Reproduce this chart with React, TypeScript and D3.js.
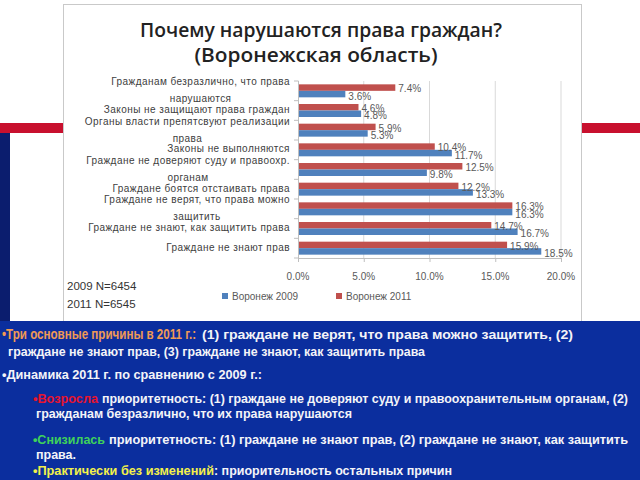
import React, { useEffect, useRef } from 'react';
import * as d3 from 'd3';

const categories = [
  "Гражданам безразлично, что права|нарушаются",
  "Законы не защищают права граждан",
  "Органы власти препятсвуют реализации|права",
  "Законы не выполняются",
  "Граждане не доверяют суду и правоохр.|органам",
  "Граждане боятся отстаивать права",
  "Граждане не верят, что права можно|защитить",
  "Граждане не знают, как защитить права",
  "Граждане не знают прав",
];
const values2009 = [3.6, 4.8, 5.3, 11.7, 9.8, 13.3, 16.3, 16.7, 18.5];
const values2011 = [7.4, 4.6, 5.9, 10.4, 12.5, 12.2, 16.3, 14.7, 15.9];
const xTicks = [0, 5, 10, 15, 20];
const seriesNames = ["Воронеж 2009", "Воронеж 2011"];
const titleLines = ["Почему нарушаются права граждан?", "(Воронежская область)"];
const sampleNotes = ["2009 N=6454", "2011 N=6545"];

const noteLines = [
  [{ t: "•Три основные причины в 2011 г.:", c: "orange" }, { t: "(1) граждане не верят, что права можно защитить, (2)", c: "white" }],
  [{ t: "граждане не знают прав, (3) граждане не знают, как защитить права", c: "white" }],
  [{ t: "•Динамика 2011 г. по сравнению с 2009 г.:", c: "white" }],
  [{ t: "•Возросла", c: "red" }, { t: "приоритетность: (1) граждане не доверяют суду и правоохранительным органам, (2)", c: "white" }],
  [{ t: "гражданам безразлично, что их права нарушаются", c: "white" }],
  [{ t: "•Снизилась", c: "green" }, { t: "приоритетность:  (1) граждане не знают прав, (2) граждане не знают, как защитить", c: "white" }],
  [{ t: "права.", c: "white" }],
  [{ t: "•Практически без изменений", c: "yellow" }, { t: ": приорительность остальных причин", c: "white" }],
];

// layout for note lines: baseline y, and per segment [x, width, fontSize]
const noteLayout = [
  { y: 339, segs: [[2, 194, 14], [202, 371, 12.5]] },
  { y: 356, segs: [[8, 417, 12.5]] },
  { y: 379, segs: [[2, 260, 12.5]] },
  { y: 403, segs: [[33, 65, 12.5], [102, 526, 12.5]] },
  { y: 418, segs: [[36, 316, 12.5]] },
  { y: 444, segs: [[33, 72, 12.5], [109, 519, 12.5]] },
  { y: 459, segs: [[36, 40, 12.5]] },
  { y: 475, segs: [[33, 181, 12.5], [214, 238, 12.5]] },
];

const noteColors: Record<string, string> = {
  orange: "#f09a55",
  white: "#f4f4f8",
  red: "#e8142e",
  green: "#3fd25a",
  yellow: "#f2f04a",
};

export default function App() {
  const ref = useRef<SVGSVGElement | null>(null);

  useEffect(() => {
    const svg = d3.select(ref.current);
    svg.selectAll("*").remove();

    // background decorations
    svg.append("rect").attr("x", 0).attr("y", 0).attr("width", 640).attr("height", 480).attr("fill", "#ffffff");
    svg.append("rect").attr("x", 0).attr("y", 123).attr("width", 64).attr("height", 10).attr("fill", "#c8102e");
    svg.append("rect").attr("x", 581).attr("y", 123).attr("width", 59).attr("height", 10).attr("fill", "#c8102e");
    svg.append("rect").attr("x", 0).attr("y", 133).attr("width", 10).attr("height", 190).attr("fill", "#0b1d6e");

    // chart panel
    svg.append("rect").attr("x", 63.5).attr("y", 4.5).attr("width", 518).attr("height", 320)
      .attr("fill", "#ffffff").attr("stroke", "#c9c9c9");

    // title
    const tcol = "#222222";
    svg.append("text").attr("x", 321).attr("y", 37).attr("text-anchor", "middle")
      .attr("font-family", "'Open Sans', sans-serif").attr("font-weight", 600).attr("font-size", 20)
      .attr("fill", tcol).attr("textLength", 362).attr("lengthAdjust", "spacingAndGlyphs").text(titleLines[0]);
    svg.append("text").attr("x", 316).attr("y", 62).attr("text-anchor", "middle")
      .attr("font-family", "'Open Sans', sans-serif").attr("font-weight", 600).attr("font-size", 20)
      .attr("fill", tcol).attr("textLength", 243).attr("lengthAdjust", "spacingAndGlyphs").text(titleLines[1]);

    // scales
    const x = d3.scaleLinear().domain([0, 20]).range([298, 561]);
    const y = d3.scaleBand<number>().domain(d3.range(categories.length)).range([81, 258])
      .paddingInner(0.34).paddingOuter(0.17);
    const bh = y.bandwidth() / 2;

    // gridlines
    svg.append("g").selectAll("line").data(xTicks.slice(1)).join("line")
      .attr("x1", d => x(d)).attr("x2", d => x(d)).attr("y1", 81).attr("y2", 258)
      .attr("stroke", "#d9d9d9").attr("stroke-width", 1);

    // bars
    const g = svg.append("g");
    g.selectAll("rect.r").data(values2011).join("rect").attr("class", "r")
      .attr("x", x(0)).attr("y", (_, i) => y(i)!).attr("width", d => x(d) - x(0)).attr("height", bh)
      .attr("fill", "#c0504d");
    g.selectAll("rect.b").data(values2009).join("rect").attr("class", "b")
      .attr("x", x(0)).attr("y", (_, i) => y(i)! + bh).attr("width", d => x(d) - x(0)).attr("height", bh)
      .attr("fill", "#4f81bd");

    // value labels
    const lblFont = "'Liberation Sans', Arial, sans-serif";
    g.selectAll("text.rl").data(values2011).join("text").attr("class", "rl")
      .attr("x", d => x(d) + 3).attr("y", (_, i) => y(i)! + bh / 2 + 2)
      .attr("dominant-baseline", "middle").attr("font-family", lblFont).attr("font-size", 10)
      .attr("fill", "#595959").text(d => d.toFixed(1) + "%");
    g.selectAll("text.bl").data(values2009).join("text").attr("class", "bl")
      .attr("x", d => x(d) + 3).attr("y", (_, i) => y(i)! + bh * 1.5 + 3)
      .attr("dominant-baseline", "middle").attr("font-family", lblFont).attr("font-size", 10)
      .attr("fill", "#595959").text(d => d.toFixed(1) + "%");

    // vertical axis line & ticks
    svg.append("line").attr("x1", 298.5).attr("x2", 298.5).attr("y1", 81).attr("y2", 258).attr("stroke", "#bfbfbf");
    const bounds = d3.range(categories.length + 1).map(i => 81 + i * (177 / categories.length));
    svg.append("g").selectAll("line").data(bounds).join("line")
      .attr("x1", 294).attr("x2", 298.5).attr("y1", d => d).attr("y2", d => d).attr("stroke", "#bfbfbf");

    // bottom axis
    svg.append("line").attr("x1", 298).attr("x2", 561).attr("y1", 258.5).attr("y2", 258.5).attr("stroke", "#bfbfbf");
    svg.append("g").selectAll("line").data(xTicks).join("line")
      .attr("x1", d => x(d) + 0.5).attr("x2", d => x(d) + 0.5).attr("y1", 258).attr("y2", 262).attr("stroke", "#bfbfbf");
    svg.append("g").selectAll("text").data(xTicks).join("text")
      .attr("x", d => x(d)).attr("y", 277).attr("text-anchor", "middle").attr("dominant-baseline", "middle")
      .attr("font-family", lblFont).attr("font-size", 10).attr("fill", "#595959")
      .text(d => d.toFixed(1) + "%");

    // category labels
    const cg = svg.append("g");
    categories.forEach((c, i) => {
      const lines = c.split("|");
      const cy = y(i)! + y.bandwidth() / 2;
      const mk = (txt: string) => cg.append("text").attr("font-family", lblFont).attr("font-size", 10)
        .attr("letter-spacing", 0.45).attr("fill", "#404040").attr("dominant-baseline", "middle").text(txt);
      if (lines.length === 1) {
        mk(lines[0]).attr("x", 290).attr("y", cy).attr("text-anchor", "end");
      } else {
        const t1 = mk(lines[0]).attr("x", 290).attr("y", cy - 8).attr("text-anchor", "end");
        const w = (t1.node() as SVGTextElement).getComputedTextLength();
        mk(lines[1]).attr("x", 290 - w / 2).attr("y", cy + 9).attr("text-anchor", "middle");
      }
    });

    // legend
    const legX = [222, 336];
    const legCol = ["#4f81bd", "#c0504d"];
    seriesNames.forEach((s, i) => {
      svg.append("rect").attr("x", legX[i]).attr("y", 293).attr("width", 6).attr("height", 6).attr("fill", legCol[i]);
      svg.append("text").attr("x", legX[i] + 10).attr("y", 297).attr("dominant-baseline", "middle")
        .attr("font-family", lblFont).attr("font-size", 10).attr("fill", "#595959").text(s);
    });

    // sample notes
    sampleNotes.forEach((s, i) => {
      svg.append("text").attr("x", 67).attr("y", 287 + i * 18).attr("dominant-baseline", "middle")
        .attr("font-family", lblFont).attr("font-size", 11.5).attr("fill", "#333333").text(s);
    });

    // blue info box
    svg.append("rect").attr("x", 0).attr("y", 321).attr("width", 640).attr("height", 159).attr("fill", "#0b2e9e");
    noteLines.forEach((line, li) => {
      const lay = noteLayout[li];
      line.forEach((seg, si) => {
        const [sx, sw, fs] = lay.segs[si];
        svg.append("text").attr("x", sx).attr("y", lay.y)
          .attr("font-family", lblFont).attr("font-weight", "bold").attr("font-size", fs)
          .attr("fill", noteColors[seg.c]).attr("textLength", sw).attr("lengthAdjust", "spacingAndGlyphs")
          .text(seg.t);
      });
    });
  }, []);

  return (
    <svg ref={ref} width={640} height={480}
      style={{ position: 'absolute', left: 0, top: 0, display: 'block' }} />
  );
}
